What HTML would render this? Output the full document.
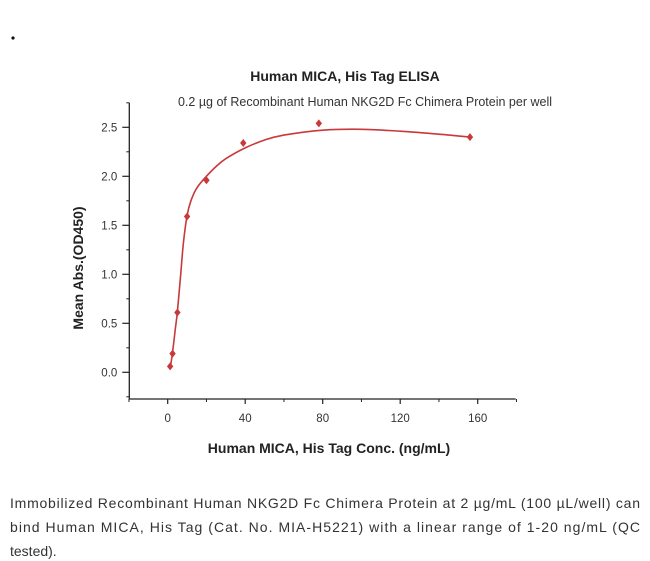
<!DOCTYPE html>
<html><head><meta charset="utf-8">
<style>
body{margin:0;background:#fff;}
svg{display:block;font-family:"Liberation Sans","DejaVu Sans",sans-serif;}
</style></head>
<body>
<svg id="chart" width="650" height="561" viewBox="0 0 650 561">
<circle cx="13" cy="38" r="1.6" fill="#111"/>
<text x="345" y="81" text-anchor="middle" font-size="14" font-weight="bold" fill="#222">Human MICA, His Tag ELISA</text>
<text x="365" y="106" text-anchor="middle" font-size="12.5" fill="#333">0.2 µg of Recombinant Human NKG2D Fc Chimera Protein per well</text>
<text x="329" y="453" text-anchor="middle" font-size="14" font-weight="bold" fill="#222">Human MICA, His Tag Conc. (ng/mL)</text>
<text transform="translate(83,268) rotate(-90)" text-anchor="middle" font-size="14" font-weight="bold" fill="#222">Mean Abs.(OD450)</text>
<g id="axes"></g>
<g id="marks"></g>
<text x="10" y="508" font-size="14" fill="#333" textLength="630" lengthAdjust="spacing">Immobilized Recombinant Human NKG2D Fc Chimera Protein at 2 µg/mL (100 µL/well) can</text>
<text x="10" y="532" font-size="14" fill="#333" textLength="630" lengthAdjust="spacing">bind Human MICA, His Tag (Cat. No. MIA-H5221) with a linear range of 1-20 ng/mL (QC</text>
<text x="10" y="556" font-size="14" fill="#333">tested).</text>
</svg>
<script>
const xTicks = [0, 40, 80, 120, 160];
const yTicks = [0.0, 0.5, 1.0, 1.5, 2.0, 2.5];
const yTickLabels = ["0.0", "0.5", "1.0", "1.5", "2.0", "2.5"];
const concentrations = [1.25, 2.5, 5, 10, 20, 39, 78, 156];
const absorbance = [0.06, 0.19, 0.61, 1.59, 1.96, 2.34, 2.54, 2.40];
const fitX = [1.25, 2.5, 4, 5, 6.5, 8, 10, 12, 15, 20, 25, 30, 40, 50, 60, 80, 100, 120, 140, 156];
const fitY = [0.04, 0.2, 0.45, 0.62, 0.95, 1.3, 1.6, 1.75, 1.88, 2.0, 2.1, 2.18, 2.29, 2.37, 2.42, 2.47, 2.48, 2.46, 2.43, 2.40];

const NS = "http://www.w3.org/2000/svg";
const xS = v => 167.7 + v * 1.9375;
const yS = v => 372.3 - v * 98;
const axes = document.getElementById('axes');
const marks = document.getElementById('marks');
function mk(tag, attrs, parent){const e=document.createElementNS(NS,tag);for(const k in attrs)e.setAttribute(k,attrs[k]);parent.appendChild(e);return e;}
const AX = 129.3, AY = 399;
let e;
e = mk('line',{x1:AX,y1:102.7,x2:AX,y2:AY,stroke:'#222','stroke-width':1.3},axes);


e = mk('line',{x1:AX,y1:AY,x2:515.7,y2:AY,stroke:'#222','stroke-width':1.3},axes);


xTicks.forEach((t,i)=>{
  const t1 = mk('line',{x1:xS(t),y1:AY,x2:xS(t),y2:AY+5,stroke:'#222','stroke-width':1.2},axes);
  
  
  const lb = mk('text',{x:xS(t),y:AY+23,'text-anchor':'middle','font-size':11.5,fill:'#333'},axes);
  lb.textContent = t;
  
  
});
for (let v=-20; v<=180; v+=40){
  const m = mk('line',{x1:xS(v),y1:AY,x2:xS(v),y2:AY+3,stroke:'#222','stroke-width':1},axes);
  
  
}
yTicks.forEach((t,i)=>{
  const t1 = mk('line',{x1:AX-7,y1:yS(t),x2:AX,y2:yS(t),stroke:'#222','stroke-width':1.2},axes);
  
  
  const lb = mk('text',{x:AX-12,y:yS(t)+4,'text-anchor':'end','font-size':11.5,fill:'#333'},axes);
  lb.textContent = yTickLabels[i];
  
  
});
for (let v=-0.25; v<=2.75; v+=0.5){
  const m = mk('line',{x1:AX-3,y1:yS(v),x2:AX,y2:yS(v),stroke:'#222','stroke-width':1},axes);
  
  
}
// Catmull-Rom smoothing through fit samples
const P = fitX.map((x,i)=>[xS(x), yS(fitY[i])]);
let d = 'M'+P[0][0].toFixed(1)+','+P[0][1].toFixed(1);
for (let i=0;i<P.length-1;i++){
  const p0=P[Math.max(0,i-1)], p1=P[i], p2=P[i+1], p3=P[Math.min(P.length-1,i+2)];
  const c1=[p1[0]+(p2[0]-p0[0])/6, p1[1]+(p2[1]-p0[1])/6];
  const c2=[p2[0]-(p3[0]-p1[0])/6, p2[1]-(p3[1]-p1[1])/6];
  d += ` C${c1[0].toFixed(1)},${c1[1].toFixed(1)} ${c2[0].toFixed(1)},${c2[1].toFixed(1)} ${p2[0].toFixed(1)},${p2[1].toFixed(1)}`;
}
const path = mk('path',{d:d,fill:'none',stroke:'#c8393a','stroke-width':1.6,'stroke-linejoin':'round'},marks);


concentrations.forEach((c,i)=>{
  const x=xS(c), y=yS(absorbance[i]);
  const p = mk('path',{d:`M${x},${y-4} L${x+3.2},${y} L${x},${y+4} L${x-3.2},${y} Z`,fill:'#c8393a'},marks);
  
  
});
</script>
</body></html>
